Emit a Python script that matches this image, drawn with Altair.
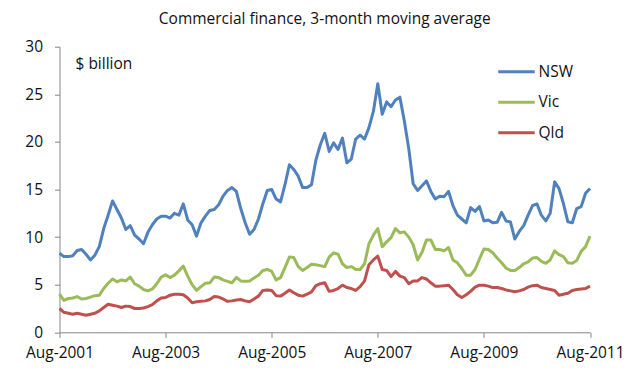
import altair as alt
import pandas as pd

title_text = "Commercial finance, 3-month moving average"
unit_text = "$ billion"
tick_labels = ["Aug-2001", "Aug-2003", "Aug-2005", "Aug-2007", "Aug-2009", "Aug-2011"]
series_names = ["NSW", "Vic", "Qld"]
series_colors = ["#4F81BD", "#9BBB59", "#C0504D"]

# monthly values, Aug-2001 .. Aug-2011 ($ billion)
nsw = [8.3, 7.95, 7.95, 8.05, 8.6, 8.7, 8.2, 7.6, 8.1, 9.0,
       10.9, 12.3, 13.8, 12.9, 12.0, 10.8, 11.2, 10.2, 9.8, 9.3,
       10.5, 11.3, 11.9, 12.2, 12.2, 12.0, 12.5, 12.3, 13.5, 11.8,
       11.3, 10.1, 11.5, 12.2, 12.8, 12.9, 13.4, 14.3, 14.9, 15.2,
       14.8, 13.0, 11.5, 10.3, 10.8, 11.9, 13.5, 14.9, 15.0, 14.0,
       13.7, 15.5, 17.6, 17.1, 16.4, 15.2, 15.2, 15.5, 18.1, 19.7,
       20.9, 19.0, 19.9, 19.2, 20.4, 17.8, 18.2, 20.3, 20.7, 20.3,
       21.5, 23.2, 26.1, 22.9, 24.2, 23.7, 24.4, 24.7, 22.2, 19.3,
       15.6, 14.9, 15.4, 15.9, 14.8, 14.0, 14.3, 14.25, 14.8, 13.3,
       12.3, 11.9, 11.5, 13.1, 12.7, 13.2, 11.7, 11.8, 11.5, 11.55,
       12.6, 11.7, 11.6, 9.8, 10.6, 11.2, 12.3, 13.3, 13.5, 12.3,
       11.7, 12.5, 15.8, 15.1, 13.5, 11.6, 11.5, 13.0, 13.2, 14.6,
       15.1]
vic = [4.0, 3.35, 3.55, 3.6, 3.75, 3.5, 3.55, 3.7, 3.85, 3.9,
       4.6, 5.15, 5.6, 5.3, 5.5, 5.4, 5.8, 5.1, 4.85, 4.5,
       4.35, 4.55, 5.1, 5.8, 6.05, 5.75, 6.0, 6.45, 6.95, 5.9,
       5.0, 4.4, 4.8, 5.15, 5.2, 5.8, 5.75, 5.5, 5.35, 5.2,
       5.75, 5.4, 5.35, 5.4, 5.7, 6.0, 6.5, 6.6, 6.4, 5.5,
       5.75, 6.8, 7.9, 7.85, 6.9, 6.5, 6.8, 7.15, 7.1, 7.0,
       6.9, 7.9, 8.35, 8.2, 7.2, 6.8, 6.9, 6.6, 6.6, 7.2,
       9.3, 10.2, 10.9, 9.0, 9.5, 9.95, 10.9, 10.45, 10.55, 10.0,
       9.2, 7.6, 8.4, 9.7, 9.7, 8.7, 8.7, 8.55, 8.9, 7.6,
       7.3, 6.7, 6.0, 6.0, 6.6, 7.7, 8.75, 8.7, 8.35, 7.8,
       7.3, 6.75, 6.5, 6.5, 6.8, 7.2, 7.4, 7.8, 7.85, 7.45,
       7.25, 7.6, 8.55, 8.15, 7.95, 7.3, 7.25, 7.55, 8.5, 9.0,
       10.1]
qld = [2.5, 2.1, 2.0, 1.9, 2.0, 1.9, 1.8, 1.9, 2.0, 2.25,
       2.6, 2.95, 2.85, 2.75, 2.6, 2.75, 2.7, 2.5, 2.5, 2.55,
       2.7, 2.9, 3.3, 3.6, 3.65, 3.9, 4.0, 4.0, 3.95, 3.6,
       3.1, 3.2, 3.25, 3.3, 3.45, 3.75, 3.7, 3.5, 3.25, 3.3,
       3.4, 3.45, 3.3, 3.2, 3.5, 3.8, 4.4, 4.45, 4.4, 3.85,
       3.8, 4.1, 4.45, 4.15, 3.9, 3.8, 4.0, 4.25, 4.9, 5.1,
       5.2, 4.3, 4.4, 4.6, 4.95, 4.7, 4.6, 4.4, 4.8, 5.4,
       7.1, 7.6, 8.0, 6.6, 6.5, 5.85, 6.4, 5.9, 5.75, 5.1,
       5.4, 5.4, 5.75, 5.6, 5.2, 4.85, 4.85, 4.9, 4.95, 4.5,
       3.95, 3.65, 3.95, 4.3, 4.75, 4.95, 4.95, 4.85, 4.7, 4.7,
       4.6, 4.45, 4.35, 4.25, 4.35, 4.5, 4.75, 4.9, 4.95, 4.7,
       4.6, 4.5, 4.4, 3.9, 4.0, 4.1, 4.4, 4.5, 4.55, 4.6,
       4.85]

rows = []
for name, vals in zip(series_names, [nsw, vic, qld]):
    for i, v in enumerate(vals):
        rows.append({"month": i, "series": name, "value": v})
df = pd.DataFrame(rows)

tick_values = [i * 24 for i in range(len(tick_labels))]
label_expr = "[" + ",".join("'" + t + "'" for t in tick_labels) + "][round(datum.value/24)]"

FONT = "Open Sans"
AX = "#868686"

lines = alt.Chart(df).mark_line(strokeWidth=3, strokeJoin="round").encode(
    x=alt.X("month:Q",
            scale=alt.Scale(domain=[0, 120], nice=False, zero=False),
            axis=alt.Axis(values=tick_values, labelExpr=label_expr, title=None, grid=False,
                          domainColor=AX, tickColor=AX, tickSize=5, labelPadding=8,
                          labelFont=FONT, labelFontSize=15.5, labelColor="#111",
                          labelOverlap=False, labelFlush=False)),
    y=alt.Y("value:Q",
            scale=alt.Scale(domain=[0, 30], nice=False),
            axis=alt.Axis(values=list(range(0, 31, 5)), title=None, grid=False,
                          domainColor=AX, tickColor=AX, tickSize=5, labelPadding=12,
                          labelFont=FONT, labelFontSize=15.5, labelColor="#111")),
    color=alt.Color("series:N",
                    scale=alt.Scale(domain=series_names, range=series_colors),
                    sort=series_names,
                    legend=alt.Legend(title=None, orient="none", legendX=437, legendY=15,
                                      symbolType="stroke", symbolSize=1330, symbolStrokeWidth=3,
                                      clipHeight=20, rowPadding=10.5, padding=0,
                                      labelFont=FONT, labelFontSize=15.5, labelColor="#111",
                                      labelOffset=2)),
)

unit = alt.Chart(pd.DataFrame({"t": [unit_text]})).mark_text(
    align="left", baseline="middle", font=FONT, fontSize=15.5, color="#111"
).encode(text="t:N", x=alt.value(16), y=alt.value(17))

chart = alt.layer(lines, unit).properties(
    width=530.5, height=285.6,
    title=alt.TitleParams(title_text, anchor="middle", font=FONT, fontSize=15.5,
                          fontWeight="normal", color="#111", offset=12),
    autosize=alt.AutoSizeParams(type="none"),
    padding={"left": 51.5, "top": 38.7, "right": 40, "bottom": 40},
).configure_view(stroke=None)

chart.save("out.html", embed_options={"renderer": "svg", "actions": False})
